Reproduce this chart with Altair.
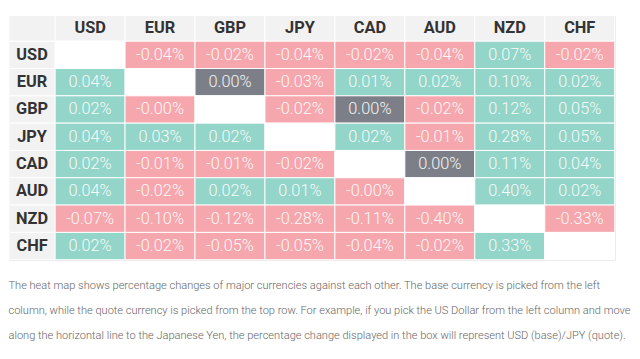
import math
import altair as alt
import pandas as pd

currencies = ["USD", "EUR", "GBP", "JPY", "CAD", "AUD", "NZD", "CHF"]

# rows = base currency, columns = quote currency (percent change); None = diagonal
row_usd = [None, -0.04, -0.02, -0.04, -0.02, -0.04, 0.07, -0.02]
row_eur = [0.04, None, 0.00, -0.03, 0.01, 0.02, 0.10, 0.02]
row_gbp = [0.02, -0.0, None, -0.02, 0.00, -0.02, 0.12, 0.05]
row_jpy = [0.04, 0.03, 0.02, None, 0.02, -0.01, 0.28, 0.05]
row_cad = [0.02, -0.01, -0.01, -0.02, None, 0.00, 0.11, 0.04]
row_aud = [0.04, -0.02, 0.02, 0.01, -0.0, None, 0.40, 0.02]
row_nzd = [-0.07, -0.10, -0.12, -0.28, -0.11, -0.40, None, -0.33]
row_chf = [0.02, -0.02, -0.05, -0.05, -0.04, -0.02, 0.33, None]
matrix = [row_usd, row_eur, row_gbp, row_jpy, row_cad, row_aud, row_nzd, row_chf]

caption = [
    "The heat map shows percentage changes of major currencies against each other. The base currency is picked from the left",
    "column, while the quote currency is picked from the top row. For example, if you pick the US Dollar from the left column and move",
    "along the horizontal line to the Japanese Yen, the percentage change displayed in the box will represent USD (base)/JPY (quote).",
]

LABEL_W = 0.66   # width of the row-label column, in cell units
HEAD_H = 0.94    # height of the header row, in cell units

cells = []
for r, base in enumerate(currencies):
    for c, quote in enumerate(currencies):
        v = matrix[r][c]
        if v is None:
            kind, label = "none", ""
        elif v == 0 and math.copysign(1, v) > 0:
            kind, label = "flat", f"{v:.2f}%"
        elif math.copysign(1, v) < 0:
            kind, label = "neg", f"{v:.2f}%"
        else:
            kind, label = "pos", f"{v:.2f}%"
        cells.append(dict(x=c, x2=c + 1, y=r, y2=r + 1, xc=c + 0.5, yc=r + 0.5,
                          kind=kind, label=label))
cells_df = pd.DataFrame(cells)

heads = [dict(x=-LABEL_W, x2=0, y=-HEAD_H, y2=0, xc=-LABEL_W / 2, yc=-HEAD_H / 2,
              kind="head", label="")]
for i, cur in enumerate(currencies):
    heads.append(dict(x=i, x2=i + 1, y=-HEAD_H, y2=0, xc=i + 0.5, yc=-HEAD_H / 2,
                      kind="head", label=cur))
    heads.append(dict(x=-LABEL_W, x2=0, y=i, y2=i + 1, xc=-LABEL_W / 2, yc=i + 0.5,
                      kind="head", label=cur))
heads_df = pd.DataFrame(heads)

xs = alt.Scale(domain=[-LABEL_W, 8], nice=False, zero=False)
ys = alt.Scale(domain=[-HEAD_H, 8], nice=False, zero=False, reverse=True)
color = alt.Scale(domain=["pos", "neg", "flat", "none", "head"],
                  range=["#93d5c9", "#f6a7ad", "#7d7f88", "#ffffff", "#f2f2f2"])

def rects(df):
    return alt.Chart(df).mark_rect(stroke="#ffffff", strokeWidth=1).encode(
        x=alt.X("x:Q", scale=xs, axis=None),
        x2="x2:Q",
        y=alt.Y("y:Q", scale=ys, axis=None),
        y2="y2:Q",
        color=alt.Color("kind:N", scale=color, legend=None),
    )

head_rect = rects(heads_df)
cell_rect = rects(cells_df)

head_text = alt.Chart(heads_df).mark_text(
    font="Roboto", fontSize=17, fontWeight="bold", color="#333333"
).encode(x=alt.X("xc:Q", scale=xs), y=alt.Y("yc:Q", scale=ys), text="label:N")

cell_text = alt.Chart(cells_df).mark_text(
    font="Roboto", fontSize=17, fontWeight=300, color="#ffffff", opacity=0.92
).encode(x=alt.X("xc:Q", scale=xs), y=alt.Y("yc:Q", scale=ys), text="label:N")

chart = alt.layer(head_rect, cell_rect, head_text, cell_text).properties(
    width=630,
    height=254,
    padding=0,
    title=alt.TitleParams(
        text=caption, orient="bottom", anchor="start", font="Roboto",
        fontSize=11.5, fontWeight=300, color="#666666", lineHeight=26, offset=21,
    ),
).configure_view(stroke=None).configure(background="#ffffff")

chart.save("out.html", embed_options={"renderer": "svg", "actions": False})
